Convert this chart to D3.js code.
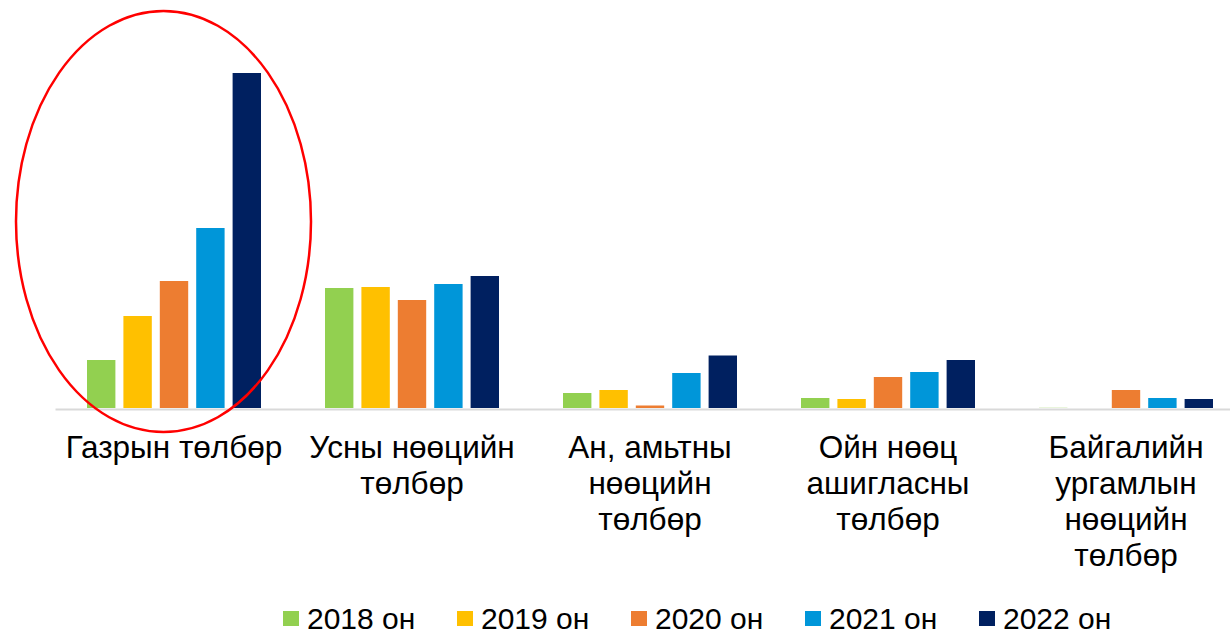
<!DOCTYPE html>
<html>
<head>
<meta charset="utf-8">
<script src="https://cdn.jsdelivr.net/npm/d3@7/dist/d3.min.js"></script>
<style>
  html, body { margin: 0; padding: 0; background: #fff; }
  svg { display: block; }
  text { font-family: "Liberation Sans", Arial, sans-serif; fill: #000; }
</style>
</head>
<body>
<svg id="chart" width="1230" height="635"></svg>
<script>
// ---- data ----
const categories = [
  "Газрын төлбөр",
  "Усны нөөцийн төлбөр",
  "Ан, амьтны нөөцийн төлбөр",
  "Ойн нөөц ашигласны төлбөр",
  "Байгалийн ургамлын нөөцийн төлбөр"
];
const categoryLines = [
  ["Газрын төлбөр"],
  ["Усны нөөцийн", "төлбөр"],
  ["Ан, амьтны", "нөөцийн", "төлбөр"],
  ["Ойн нөөц", "ашигласны", "төлбөр"],
  ["Байгалийн", "ургамлын", "нөөцийн", "төлбөр"]
];
const years = ["2018 он", "2019 он", "2020 он", "2021 он", "2022 он"];
const v2018 = [48, 120, 15, 10, 0.8];
const v2019 = [92, 121, 18, 9, 0];
const v2020 = [127, 108, 2.5, 31, 18];
const v2021 = [180, 124, 35, 36, 10];
const v2022 = [335, 132, 52.5, 48, 9];
const seriesValues = [v2018, v2019, v2020, v2021, v2022];
const colors = ["#92D050", "#FFC000", "#ED7D31", "#0096D9", "#002060"];

// ---- layout ----
const svg = d3.select("#chart");
const baseY = 408;
const x0 = d3.scaleBand().domain(categories).range([55, 1245]).padding(0);
const groupW = 174;
const x1 = d3.scaleBand().domain(years).range([0, groupW]).paddingInner(0.22).paddingOuter(0);
const y = d3.scaleLinear().domain([0, 350]).range([baseY, baseY - 350]);
const color = d3.scaleOrdinal().domain(years).range(colors);

const table = categories.map((c, i) => ({
  cat: c,
  vals: years.map((yr, j) => ({ year: yr, value: seriesValues[j][i] }))
}));

// bars
const groups = svg.append("g").selectAll("g")
  .data(table).join("g")
  .attr("transform", d => `translate(${x0(d.cat) + (x0.bandwidth() - groupW) / 2},0)`);

groups.selectAll("rect")
  .data(d => d.vals).join("rect")
  .attr("x", d => x1(d.year))
  .attr("width", x1.bandwidth())
  .attr("y", d => y(d.value))
  .attr("height", d => baseY - y(d.value))
  .attr("fill", d => color(d.year))
  .attr("opacity", d => d.value < 1 ? 0.25 : 1);

// baseline (category axis)
const xAxis = d3.axisBottom(x0).tickSize(0).tickFormat("");
const axisG = svg.append("g").attr("transform", `translate(0,${baseY + 1})`).call(xAxis);
axisG.select(".domain").attr("stroke", "#d9d9d9").attr("stroke-width", 2);

// category labels
const labels = svg.append("g").selectAll("text")
  .data(categories).join("text")
  .attr("text-anchor", "middle")
  .attr("font-size", 31.5)
  .attr("x", d => x0(d) + x0.bandwidth() / 2)
  .attr("y", 458);
labels.each(function(d, i) {
  const t = d3.select(this);
  categoryLines[i].forEach((line, k) => {
    t.append("tspan")
      .attr("x", x0(d) + x0.bandwidth() / 2)
      .attr("dy", k === 0 ? 0 : 36)
      .text(line);
  });
});

// red ellipse highlight
svg.append("ellipse")
  .attr("cx", 163.5).attr("cy", 221.5)
  .attr("rx", 147.5).attr("ry", 210.5)
  .attr("fill", "none")
  .attr("stroke", "#FF0000")
  .attr("stroke-width", 2.5);

// legend
const legend = svg.append("g").attr("transform", "translate(283,0)");
const items = legend.selectAll("g").data(years).join("g")
  .attr("transform", (d, i) => `translate(${i * 174},0)`);
items.append("rect")
  .attr("x", 0).attr("y", 611).attr("width", 16).attr("height", 15)
  .attr("fill", d => color(d));
items.append("text")
  .attr("x", 24).attr("y", 628.5)
  .attr("font-size", 30)
  .text(d => d);
</script>
</body>
</html>
